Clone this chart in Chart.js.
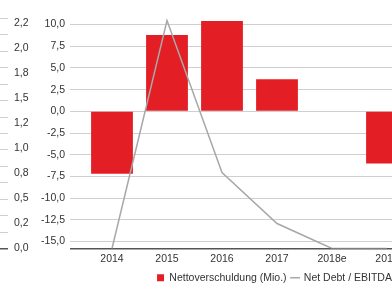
<!DOCTYPE html>
<html>
<head>
<meta charset="utf-8">
<script src="https://cdn.jsdelivr.net/npm/chart.js@4/dist/chart.umd.min.js"></script>
<style>
  html, body { margin: 0; padding: 0; overflow: hidden; background: #fff; }
  #wrap { width: 549px; height: 293px; position: relative; }
</style>
</head>
<body>
<div id="wrap"><canvas id="c" width="549" height="293"></canvas></div>
<script>
// ---- data ----
const categories = ['2014', '2015', '2016', '2017', '2018e', '2019'];
const netDebtMio = [-7.2, 8.8, 10.4, 3.7, 0, -6.0];
const netDebtEbitda = [0.0, 2.28, 0.76, 0.25, 0.0, 0.0];
const seriesNames = ['Nettoverschuldung (Mio.)', 'Net Debt / EBITDA'];
const barTickValues = [-15, -12.5, -10, -7.5, -5, -2.5, 0, 2.5, 5, 7.5, 10];
const barTickLabels = ['-15,0', '-12,5', '-10,0', '-7,5', '-5,0', '-2,5', '0,0', '2,5', '5,0', '7,5', '10,0'];
const ratioTickValues = [0, 0.25, 0.5, 0.75, 1.0, 1.25, 1.5, 1.75, 2.0, 2.25];
const ratioTickLabels = ['0,0', '0,2', '0,5', '0,8', '1,0', '1,2', '1,5', '1,8', '2,0', '2,2'];

Chart.defaults.font.family = '"Liberation Sans", Arial, sans-serif';
Chart.defaults.font.size = 10.5;
Chart.defaults.color = '#333';

const GRID = '#cfcfcf';
const DARK = '#555';
const legendStyles = ['rect', 'line'];

new Chart(document.getElementById('c'), {
  type: 'bar',
  data: {
    labels: categories,
    datasets: [
      {
        type: 'bar',
        label: seriesNames[0],
        data: netDebtMio,
        backgroundColor: '#e31e24',
        borderWidth: 0,
        yAxisID: 'y',
        categoryPercentage: 1,
        barPercentage: 0.76,
        order: 1
      },
      {
        type: 'line',
        label: seriesNames[1],
        data: netDebtEbitda,
        borderColor: '#a8a8a8',
        backgroundColor: '#a8a8a8',
        borderWidth: 1.5,
        pointRadius: 0,
        tension: 0,
        fill: false,
        yAxisID: 'y1',
        order: 0
      }
    ]
  },
  options: {
    responsive: false,
    animation: false,
    layout: { padding: { top: 18.5, left: 0, right: 0, bottom: 0 } },
    plugins: {
      tooltip: { enabled: false },
      legend: {
        position: 'bottom',
        align: 'center',
        labels: {
          usePointStyle: true,
          boxWidth: 7,
          boxHeight: 7,
          padding: 5,
          color: '#333',
          font: { size: 10.5 },
          sort: (a, b) => a.datasetIndex - b.datasetIndex,
          generateLabels: (chart) => {
            const base = Chart.defaults.plugins.legend.labels.generateLabels(chart);
            return base.map((l) => Object.assign({}, l, { pointStyle: legendStyles[l.datasetIndex] }));
          }
        }
      }
    },
    scales: {
      x: {
        type: 'category',
        position: 'bottom',
        offset: true,
        grid: { display: false, drawTicks: false },
        border: { display: false },
        ticks: { padding: 4, maxRotation: 0, autoSkip: false },
        afterFit: (s) => { s.height = 19; }
      },
      yg: {
        type: 'linear',
        position: 'left',
        weight: 3,
        min: 0,
        max: 14,
        ticks: { display: false, stepSize: 1 },
        grid: {
          display: true,
          drawOnChartArea: false,
          drawTicks: true,
          tickLength: 8,
          color: (ctx) => (ctx.tick && ctx.tick.value === 0 ? DARK : GRID),
          lineWidth: (ctx) => (ctx.tick && ctx.tick.value === 0 ? 1.5 : 1)
        },
        border: { display: false },
        afterFit: (s) => { s.width = 8; }
      },
      y1: {
        type: 'linear',
        position: 'left',
        weight: 2,
        min: 0,
        max: 2.3,
        afterBuildTicks: (s) => { s.ticks = ratioTickValues.map(v => ({ value: v })); },
        ticks: {
          padding: 1.5,
          callback: (v) => {
            const i = ratioTickValues.findIndex(t => Math.abs(t - v) < 1e-9);
            return i >= 0 ? ratioTickLabels[i] : '';
          }
        },
        grid: { display: false, drawTicks: false },
        border: { display: false },
        afterFit: (s) => { s.width = 22; }
      },
      y: {
        type: 'linear',
        position: 'left',
        weight: 1,
        min: -15.8,
        max: 10.7,
        afterBuildTicks: (s) => {
          s.ticks = [{ value: s.min }].concat(barTickValues.map(v => ({ value: v })));
        },
        ticks: {
          padding: 5,
          callback: (v) => {
            const i = barTickValues.findIndex(t => Math.abs(t - v) < 1e-9);
            return i >= 0 ? barTickLabels[i] : '';
          }
        },
        grid: {
          display: true,
          drawTicks: true,
          tickLength: 14.5,
          color: (ctx) => (ctx.tick && Math.abs(ctx.tick.value - (-15.8)) < 1e-9 ? DARK : GRID),
          lineWidth: (ctx) => (ctx.tick && Math.abs(ctx.tick.value - (-15.8)) < 1e-9 ? 1.5 : 1)
        },
        border: { display: false },
        afterFit: (s) => { s.width = 54.5; }
      },
      yr: {
        type: 'linear',
        position: 'right',
        min: 0,
        max: 1,
        ticks: { display: false },
        grid: { display: false, drawTicks: false },
        border: { display: false },
        afterFit: (s) => { s.width = 134.5; }
      }
    }
  }
});
</script>
</body>
</html>
